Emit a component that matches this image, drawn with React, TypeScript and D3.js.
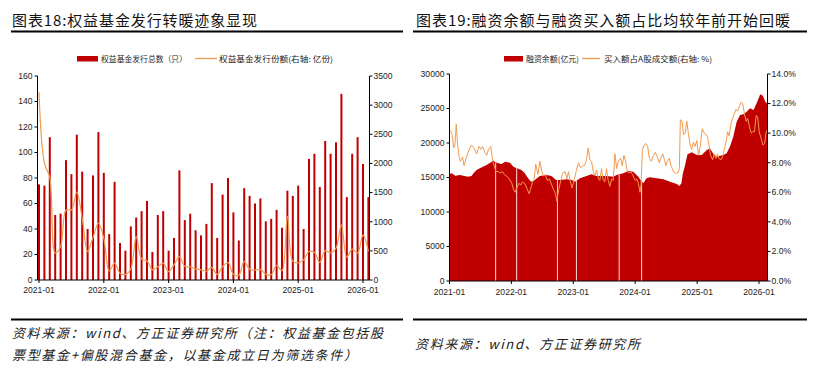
import React from "react";
import * as d3 from "d3";

// ---- 图表18 data (monthly, 2021-01 .. 2026-02) ----
const fundCount = [
  75, 74, 112, 51, 52, 94, 83, 114, 85, 40, 82, 116,
  84, 36, 77, 29, 23, 42, 49, 54, 62, 22, 51, 54,
  23, 33, 86, 47, 52, 39, 35, 44, 76, 33, 67, 80,
  53, 31, 72, 66, 60, 64, 46, 48, 55, 41, 70, 66,
  74, 40, 95, 99, 73, 109, 99, 108, 146, 65, 99, 112,
  91, 65,
];
const fundShare = [
  3220, 2005, 1760, 462, 575, 1200, 1200, 1510, 1060, 488, 730, 975,
  715, 155, 290, 117, 95, 190, 745, 360, 330, 175, 225, 290,
  145, 260, 400, 235, 225, 190, 175, 150, 215, 95, 230, 300,
  100, 80, 318, 185, 170, 183, 100, 90, 250, 160, 1090, 318,
  295, 345, 490, 475, 300, 505, 465, 545, 945, 390, 530, 460,
  770, 490,
];
const fundMonths = d3.timeMonth.range(new Date(2021, 0, 1), new Date(2026, 2, 1));
const yearLabels = ["2021-01", "2022-01", "2023-01", "2024-01", "2025-01", "2026-01"];

// ---- 图表19 data ----
const marginDates = [
  "2021-01-04", "2021-01-15", "2021-02-04", "2021-03-03", "2021-04-21", "2021-05-11",
  "2021-05-25", "2021-06-10", "2021-06-29", "2021-08-08", "2021-09-07", "2021-09-17",
  "2021-09-29", "2021-10-16", "2021-11-05", "2021-11-25", "2021-12-24", "2022-01-13",
  "2022-02-02", "2022-03-02", "2022-03-21", "2022-04-10", "2022-04-27", "2022-05-19",
  "2022-06-18", "2022-07-27", "2022-08-26", "2022-09-21", "2022-10-14", "2022-11-24",
  "2022-12-23", "2023-01-12", "2023-02-10", "2023-03-20", "2023-04-19", "2023-05-18",
  "2023-07-16", "2023-08-25", "2023-09-14", "2023-10-23", "2023-11-22", "2023-12-21",
  "2024-01-20", "2024-02-06", "2024-02-19", "2024-03-08", "2024-03-28", "2024-05-07",
  "2024-06-16", "2024-07-25", "2024-09-03", "2024-09-18", "2024-09-30", "2024-10-08",
  "2024-10-22", "2024-11-05", "2024-11-30", "2024-12-30", "2025-01-28", "2025-02-27",
  "2025-03-17", "2025-04-08", "2025-04-25", "2025-06-04", "2025-06-24", "2025-07-13",
  "2025-08-02", "2025-08-22", "2025-09-11", "2025-10-01", "2025-10-20", "2025-11-09",
  "2025-11-29", "2025-12-18", "2026-01-08", "2026-01-24", "2026-02-07", "2026-02-17",
];
const marginBalance = [
  15500, 15600, 15270, 15360, 15120, 15200,
  15700, 16100, 16330, 16800, 17300, 17440,
  17200, 17050, 16960, 17300, 17150, 16570,
  16330, 16090, 15600, 14880, 14400, 14640,
  15220, 15360, 15220, 14640, 14640, 14730,
  14640, 14400, 14880, 15220, 15460, 15220,
  15220, 15120, 15360, 15600, 15940, 15850,
  15120, 14500, 14150, 14880, 15020, 14880,
  14730, 14400, 14060, 13770, 14150, 15500,
  16800, 18360, 18650, 18260, 18260, 18990,
  19230, 18360, 18020, 18260, 18500, 19470,
  20920, 23090, 24060, 24150, 24540, 25020,
  24780, 25750, 27050, 26860, 25990, 25750,
];
const ratioDates = [
  "2021-01-04", "2021-01-09", "2021-01-17", "2021-01-25", "2021-02-01", "2021-02-10",
  "2021-02-18", "2021-02-28", "2021-03-07", "2021-03-19", "2021-03-28", "2021-04-12",
  "2021-04-27", "2021-05-11", "2021-05-25", "2021-06-10", "2021-06-24", "2021-07-05",
  "2021-07-15", "2021-07-29", "2021-08-08", "2021-08-20", "2021-09-01", "2021-09-13",
  "2021-09-21", "2021-10-02", "2021-10-16", "2021-10-26", "2021-11-09", "2021-11-21",
  "2021-12-04", "2021-12-20", "2022-01-04", "2022-01-13", "2022-01-23", "2022-02-02",
  "2022-02-14", "2022-02-26", "2022-03-07", "2022-03-21", "2022-04-05", "2022-04-16",
  "2022-04-24", "2022-05-06", "2022-05-14", "2022-05-25", "2022-06-07", "2022-06-18",
  "2022-06-28", "2022-07-08", "2022-07-20", "2022-08-01", "2022-08-13", "2022-08-27",
  "2022-09-06", "2022-09-18", "2022-09-26", "2022-10-08", "2022-10-19", "2022-10-31",
  "2022-11-14", "2022-11-24", "2022-12-04", "2022-12-13", "2022-12-25", "2023-01-06",
  "2023-01-18", "2023-02-01", "2023-02-10", "2023-02-19", "2023-02-28", "2023-03-10",
  "2023-03-20", "2023-03-30", "2023-04-09", "2023-04-19", "2023-04-29", "2023-05-10",
  "2023-05-18", "2023-05-30", "2023-06-07", "2023-06-17", "2023-06-27", "2023-07-06",
  "2023-07-16", "2023-07-26", "2023-08-05", "2023-08-15", "2023-08-25", "2023-09-04",
  "2023-09-14", "2023-09-24", "2023-10-07", "2023-10-17", "2023-10-27", "2023-11-08",
  "2023-11-16", "2023-11-28", "2023-12-05", "2023-12-17", "2024-01-01", "2024-01-11",
  "2024-01-20", "2024-01-30", "2024-02-05", "2024-02-13", "2024-02-24", "2024-03-05",
  "2024-03-15", "2024-03-25", "2024-04-06", "2024-04-18", "2024-04-29", "2024-05-11",
  "2024-05-23", "2024-05-31", "2024-06-12", "2024-06-22", "2024-07-01", "2024-07-09",
  "2024-07-21", "2024-07-31", "2024-08-14", "2024-08-26", "2024-09-09", "2024-09-18",
  "2024-09-24", "2024-10-04", "2024-10-12", "2024-10-22", "2024-11-01", "2024-11-11",
  "2024-11-21", "2024-11-30", "2024-12-10", "2024-12-20", "2024-12-30", "2025-01-09",
  "2025-01-19", "2025-01-31", "2025-02-12", "2025-02-24", "2025-03-04", "2025-03-13",
  "2025-03-21", "2025-04-02", "2025-04-12", "2025-04-22", "2025-04-30", "2025-05-09",
  "2025-05-21", "2025-05-31", "2025-06-10", "2025-06-20", "2025-06-30", "2025-07-09",
  "2025-07-19", "2025-07-29", "2025-08-08", "2025-08-18", "2025-08-28", "2025-09-07",
  "2025-09-17", "2025-09-27", "2025-10-07", "2025-10-17", "2025-10-26", "2025-11-06",
  "2025-11-16", "2025-11-25", "2025-12-05", "2025-12-15", "2025-12-24", "2026-01-02",
  "2026-01-12", "2026-01-24", "2026-02-03", "2026-02-11", "2026-02-17",
];
const ratioValues = [
  10.2, 10.1, 9.9, 9.0, 9.1, 10.6,
  9.2, 8.3, 8.1, 8.4, 7.8, 8.4,
  8.9, 9.2, 9.0, 8.6, 9.1, 8.9,
  9.1, 8.7, 8.5, 8.9, 9.1, 8.1,
  7.8, 7.4, 7.4, 7.3, 7.4, 7.2,
  7.1, 6.9, 6.6, 6.2, 6.0, 6.3,
  6.6, 6.5, 6.7, 6.6, 6.2, 5.9,
  6.2, 6.7, 6.8, 7.9, 7.2, 8.1,
  7.5, 7.1, 7.2, 6.8, 6.9, 6.5,
  6.2, 5.9, 5.4, 6.2, 6.8, 7.3,
  7.4, 6.9, 7.4, 6.8, 6.3, 6.8,
  7.4, 8.0, 7.7, 7.7, 7.8, 7.8,
  8.2, 9.0, 8.2, 8.1, 7.4, 7.1,
  7.5, 6.9, 6.8, 7.6, 6.8, 6.7,
  7.6, 6.8, 6.4, 6.9, 6.8, 8.6,
  7.6, 8.1, 8.3, 7.8, 8.5, 8.0,
  7.4, 7.3, 7.4, 7.2, 6.8, 6.9,
  6.6, 6.0, 6.5, 8.9, 9.2, 9.3,
  9.1, 8.3, 8.1, 8.5, 8.7, 8.4,
  8.0, 8.3, 8.6, 8.2, 7.8, 8.1,
  8.3, 7.8, 7.4, 7.3, 7.3, 7.6,
  10.9, 10.8, 9.9, 10.0, 10.8, 9.9,
  9.2, 8.9, 9.4, 9.1, 9.5, 8.5,
  9.1, 10.3, 10.0, 9.9, 9.7, 9.1,
  8.5, 8.2, 8.6, 8.3, 8.6, 8.3,
  8.2, 8.4, 8.9, 9.4, 10.1, 9.8,
  10.6, 11.0, 11.3, 11.6, 11.5, 11.8,
  12.1, 12.0, 11.3, 10.8, 11.0, 10.4,
  10.0, 10.1, 10.1, 11.2, 11.1, 10.1,
  9.7, 9.2, 9.3, 10.0, 10.2,
];
const holidayGaps = ["2021-09-30", "2022-02-01", "2022-09-30", "2023-01-20", "2023-09-29", "2024-02-08"];

const AX = "'Liberation Sans', Arial, sans-serif";
const CJK = "'Noto Sans CJK SC', sans-serif";
const RED = "#C00000";
const ORANGE = "#F39A4E";
const parse = d3.timeParse("%Y-%m-%d");

function LeftChart() {
  const x0 = 37.5, x1 = 369.5, top = 76, bot = 280;
  const x = d3.scalePoint<number>().domain(d3.range(fundMonths.length)).range([39, 368.4]);
  const y = d3.scaleLinear().domain([0, 160]).range([bot, top]);
  const y2 = d3.scaleLinear().domain([0, 3500]).range([bot, top]);
  const fmt = d3.timeFormat("%Y-%m");
  const line = d3.line<number>().x((_, i) => x(i)!).y((d) => y2(d)).curve(d3.curveCatmullRom.alpha(0.5));
  return (
    <g>
      <text x={12} y={26} fontFamily={CJK} fontSize={15} textLength={245} lengthAdjust="spacing" fill="#111">图表18:权益基金发行转暖迹象显现</text>
      <rect x={11} y={30.5} width={392} height={2} fill="#000" />
      {/* legend */}
      <rect x={77} y={56} width={21} height={5.5} fill={RED} />
      <text x={101} y={61.5} fontFamily={CJK} fontSize={8} textLength={86} lengthAdjust="spacingAndGlyphs" fill="#222">权益基金发行总数（只）</text>
      <line x1={195} x2={217} y1={58.5} y2={58.5} stroke={ORANGE} strokeWidth={1.3} />
      <text x={219} y={61.5} fontFamily={CJK} fontSize={8} textLength={114} lengthAdjust="spacingAndGlyphs" fill="#222">权益基金发行份额(右轴: 亿份)</text>
      {fundCount.map((v, i) => (
        <rect key={i} x={x(i)! - 1} y={y(v)} width={2} height={bot - y(v)} fill={RED} />
      ))}
      <path d={line(fundShare) || ""} fill="none" stroke={ORANGE} strokeWidth={1.2} />
      {/* axes */}
      <line x1={x0} x2={x0} y1={top} y2={bot} stroke="#000" />
      <line x1={x1} x2={x1} y1={top} y2={bot} stroke="#000" />
      <line x1={x0} x2={x1} y1={bot} y2={bot} stroke="#000" />
      {y.ticks(8).map((t) => (
        <g key={"l" + t}>
          <line x1={x0 - 3} x2={x0} y1={y(t)} y2={y(t)} stroke="#000" />
          <text x={x0 - 5} y={y(t)} dy="0.34em" textAnchor="end" fontFamily={AX} fontSize={8.6} fill="#222">{t}</text>
        </g>
      ))}
      {d3.range(0, 3501, 500).map((t) => (
        <g key={"r" + t}>
          <line x1={x1} x2={x1 + 3} y1={y2(t)} y2={y2(t)} stroke="#000" />
          <text x={x1 + 4} y={y2(t)} dy="0.34em" fontFamily={AX} fontSize={8.6} fill="#222">{t}</text>
        </g>
      ))}
      {fundMonths.map((m, i) =>
        yearLabels.includes(fmt(m)) ? (
          <g key={"x" + i}>
            <line x1={x(i)} x2={x(i)} y1={bot} y2={bot + 3} stroke="#000" />
            <text x={x(i)} y={293} textAnchor="middle" fontFamily={AX} fontSize={8.6} fill="#222">{fmt(m)}</text>
          </g>
        ) : null
      )}
      <rect x={11} y={318.5} width={392} height={2} fill="#000" />
      <text x={12} y={338} fontFamily={CJK} fontStyle="italic" fontSize={13} textLength={371} lengthAdjust="spacing" fill="#222">资料来源：wind、方正证券研究所（注：权益基金包括股</text>
      <text x={12} y={360} fontFamily={CJK} fontStyle="italic" fontSize={13} textLength={345} lengthAdjust="spacing" fill="#222">票型基金+偏股混合基金，以基金成立日为筛选条件）</text>
    </g>
  );
}

function RightChart() {
  const x0 = 449.5, x1 = 767.5, top = 74, bot = 281;
  const x = d3.scaleTime().domain([new Date(2021, 0, 1), new Date(2026, 1, 20)]).range([x0, x1]);
  const y = d3.scaleLinear().domain([0, 30000]).range([bot, top]);
  const y2 = d3.scaleLinear().domain([0, 14]).range([bot, top]);
  const mDates = marginDates.map((d) => parse(d)!);
  const rDates = ratioDates.map((d) => parse(d)!);
  const area = d3.area<number>().x((_, i) => x(mDates[i])).y0(bot).y1((d) => y(d));
  const line = d3.line<number>().x((_, i) => x(rDates[i])).y((d) => y2(d));
  const balanceAt = (t: Date) => {
    const i = d3.bisector((d: Date) => d).left(mDates, t);
    const a = mDates[i - 1], b = mDates[i];
    const f = (+t - +a) / (+b - +a);
    return marginBalance[i - 1] + f * (marginBalance[i] - marginBalance[i - 1]);
  };
  const years = d3.timeYear.range(new Date(2021, 0, 1), new Date(2026, 1, 1));
  return (
    <g>
      <text x={416} y={26} fontFamily={CJK} fontSize={15} textLength={374} lengthAdjust="spacing" fill="#111">图表19:融资余额与融资买入额占比均较年前开始回暖</text>
      <rect x={413} y={30.5} width={394} height={2} fill="#000" />
      <rect x={504} y={56} width={19} height={5.5} fill={RED} />
      <text x={526} y={61.5} fontFamily={CJK} fontSize={8} textLength={53} lengthAdjust="spacingAndGlyphs" fill="#222">融资余额(亿元)</text>
      <line x1={582} x2={600} y1={58.5} y2={58.5} stroke={ORANGE} strokeWidth={1.3} />
      <text x={604} y={61.5} fontFamily={CJK} fontSize={8} textLength={108} lengthAdjust="spacingAndGlyphs" fill="#222">买入额占A股成交额(右轴: %)</text>
      <path d={area(marginBalance) || ""} fill={RED} />
      {holidayGaps.map((g) => {
        const t = parse(g)!;
        return <line key={g} x1={x(t)} x2={x(t)} y1={y(balanceAt(t))} y2={bot} stroke="#F7CACA" strokeWidth={1.1} />;
      })}
      <path d={line(ratioValues) || ""} fill="none" stroke={ORANGE} strokeWidth={1} />
      <line x1={x0} x2={x0} y1={top} y2={bot} stroke="#000" />
      <line x1={x1} x2={x1} y1={top} y2={bot} stroke="#000" />
      <line x1={x0} x2={x1} y1={bot} y2={bot} stroke="#000" />
      {d3.range(0, 30001, 5000).map((t) => (
        <g key={"l" + t}>
          <line x1={x0 - 3} x2={x0} y1={y(t)} y2={y(t)} stroke="#000" />
          <text x={x0 - 5} y={y(t)} dy="0.34em" textAnchor="end" fontFamily={AX} fontSize={8.6} fill="#222">{t}</text>
        </g>
      ))}
      {d3.range(0, 15, 2).map((t) => (
        <g key={"r" + t}>
          <line x1={x1} x2={x1 + 3} y1={y2(t)} y2={y2(t)} stroke="#000" />
          <text x={x1 + 4} y={y2(t)} dy="0.34em" fontFamily={AX} fontSize={8.6} fill="#222">{t.toFixed(1) + "%"}</text>
        </g>
      ))}
      {years.map((d) => (
        <g key={+d}>
          <line x1={x(d)} x2={x(d)} y1={bot} y2={bot + 3} stroke="#000" />
          <text x={x(d)} y={295} textAnchor="middle" fontFamily={AX} fontSize={8.6} fill="#222">{d3.timeFormat("%Y-%m")(d)}</text>
        </g>
      ))}
      <rect x={413} y={318.5} width={394} height={2} fill="#000" />
      <text x={415} y={349} fontFamily={CJK} fontStyle="italic" fontSize={13} textLength={225} lengthAdjust="spacing" fill="#222">资料来源：wind、方正证券研究所</text>
    </g>
  );
}

export default function App() {
  return (
    <svg width={828} height={370} style={{ position: "absolute", left: 0, top: 0, background: "#fff" }}>
      <rect width={828} height={370} fill="#fff" />
      <LeftChart />
      <RightChart />
    </svg>
  );
}
